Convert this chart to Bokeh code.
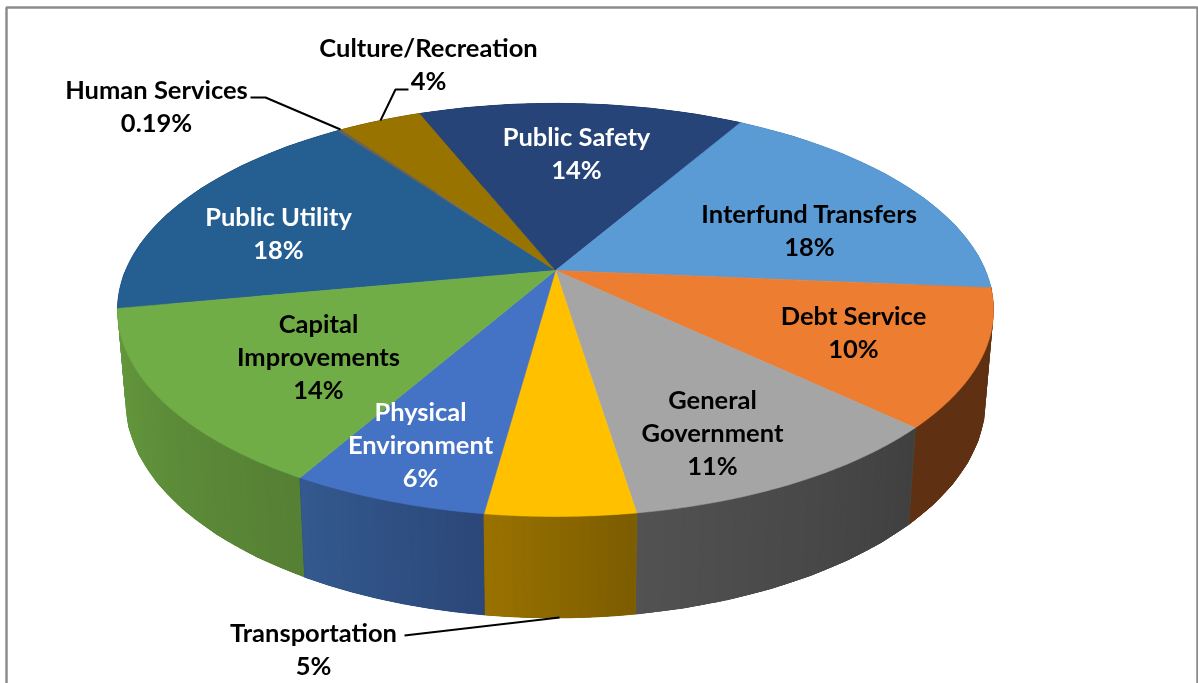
import numpy as np
from bokeh.plotting import figure
from bokeh.models import ColumnDataSource, Range1d
from bokeh.core.properties import value
from bokeh.embed import file_html
from bokeh.resources import INLINE

# ---- data, clockwise from the Capital/Utility edge ----
categories = ["Public Utility", "Human Services", "Culture/Recreation", "Public Safety",
              "Interfund Transfers", "Debt Service", "General Government",
              "Transportation", "Physical Environment", "Capital Improvements"]
shares = [18.0, 0.19, 3.7, 14.4, 18.0, 10.7, 10.5, 4.6, 6.1, 13.8]
top_colors = ["#255E91", "#636363", "#997300", "#264478", "#5B9BD5",
              "#ED7D31", "#A5A5A5", "#FFC000", "#4472C4", "#70AD47"]
wall_left = ["#1d4a73", "#4d4d4d", "#7a5c00", "#1e365f", "#497cab",
             "#5f3112", "#525252", "#9a7200", "#33598f", "#659a3e"]
wall_right = ["#1d4a73", "#4d4d4d", "#7a5c00", "#1e365f", "#497cab",
              "#5f3112", "#404040", "#7b5c00", "#2c4778", "#568034"]

# one row per text line: text, centre x, centre y, colour
label_text = ["Culture/Recreation", "4%", "Human Services", "0.19%", "Public Safety", "14%",
              "Interfund Transfers", "18%", "Debt Service", "10%", "General", "Government", "11%",
              "Physical", "Environment", "6%", "Capital", "Improvements", "14%",
              "Public Utility", "18%", "Transportation", "5%"]
label_x = [428, 428, 156, 156, 576, 576, 809, 809, 853, 853, 712, 712, 712,
           420, 420, 420, 318, 318, 318, 278, 278, 313, 313]
label_y = [46, 79, 88, 121, 135, 168, 212, 245, 314, 347, 398, 431, 464,
           410, 443, 476, 322, 355, 388, 215, 248, 631, 664]
label_color = ["black"] * 4 + ["white"] * 2 + ["black"] * 7 + ["white"] * 3 + ["black"] * 3 + ["white"] * 2 + ["black"] * 2

leaders = [([250, 265, 340], [97, 97, 129]),
           ([408, 395, 380], [89, 89, 120]),
           ([404, 559], [635, 617])]

# ---- perspective geometry of the disc ----
CX, K = 555.0, -0.191
START = -10.6   # degrees of the first edge
TOP = dict(A=430.0, B=199.0, Y0=270.0)
BOT = dict(A=422.0, B=209.0, Y0=359.0)


def rim(deg, g):
    a = np.radians(deg)
    u, v = -np.cos(a), -np.sin(a)
    w = 1 + K * v
    return CX + g["A"] * u / w, g["Y0"] + g["B"] * v / w


def mix(c1, c2, t):
    a = [int(c1[i:i + 2], 16) for i in (1, 3, 5)]
    b = [int(c2[i:i + 2], 16) for i in (1, 3, 5)]
    return "#%02x%02x%02x" % tuple(int(round(p + (q - p) * t)) for p, q in zip(a, b))


edges = START + np.concatenate([[0], np.cumsum(shares)]) * 360.0 / sum(shares)

p = figure(width=1198, height=683, output_backend="svg", toolbar_location=None,
           x_range=Range1d(0, 1198), y_range=Range1d(683, 0), min_border=0,
           outline_line_color=None, styles={"position": "fixed", "left": "0px", "top": "0px"})
p.axis.visible = False
p.grid.visible = False

# frame
p.line([6, 6, 1197, 1197], [690, 7, 7, 690], line_color="#8c8c8c", line_width=2.5)


def wall_patch(a0, a1):
    a = np.linspace(a0, a1, 8)
    tx, ty = rim(a, TOP)
    bx, by = rim(a, BOT)
    return list(tx) + list(bx[::-1]), list(ty) + list(by[::-1])


# side walls: a solid base per slice, far slices first, then overlapping gradient strips
slice_order = np.argsort([rim((edges[i] + edges[i + 1]) / 2, BOT)[1] for i in range(len(shares))])
for i in slice_order:
    bx, by = wall_patch(edges[i], edges[i + 1])
    mid = mix(wall_left[i], wall_right[i], 0.5)
    p.patch(bx, by, fill_color=mid, line_color=mid, line_width=1)
    n = max(1, int((edges[i + 1] - edges[i]) / 1.0))
    grid = np.linspace(edges[i], edges[i + 1], n + 1)
    xs, ys, cols = [], [], []
    for j in range(n):
        sx, sy = wall_patch(grid[j], grid[min(j + 2, n)])
        xs.append(sx)
        ys.append(sy)
        cols.append(mix(wall_left[i], wall_right[i], 1 - (j + 0.5) / n))
    p.patches(xs, ys, fill_color=cols, line_color=None)

# top surface
for i in range(len(shares)):
    a = np.linspace(edges[i], edges[i + 1], max(3, int((edges[i + 1] - edges[i]) * 2)))
    rx, ry = rim(a, TOP)
    p.patch([CX] + list(rx), [TOP["Y0"]] + list(ry), fill_color=top_colors[i],
            line_color=top_colors[i], line_width=0.6)

# leader lines
for lx, ly in leaders:
    p.line(lx, ly, line_color="black", line_width=2)

src = ColumnDataSource(dict(t=label_text, x=label_x, y=label_y, c=label_color))
p.text("x", "y", text="t", source=src, text_color="c", text_align="center",
       text_baseline="middle", text_font=value("Lato"), text_font_style="bold",
       text_font_size="25.5px")

open("out.html", "w").write(file_html(p, INLINE))
